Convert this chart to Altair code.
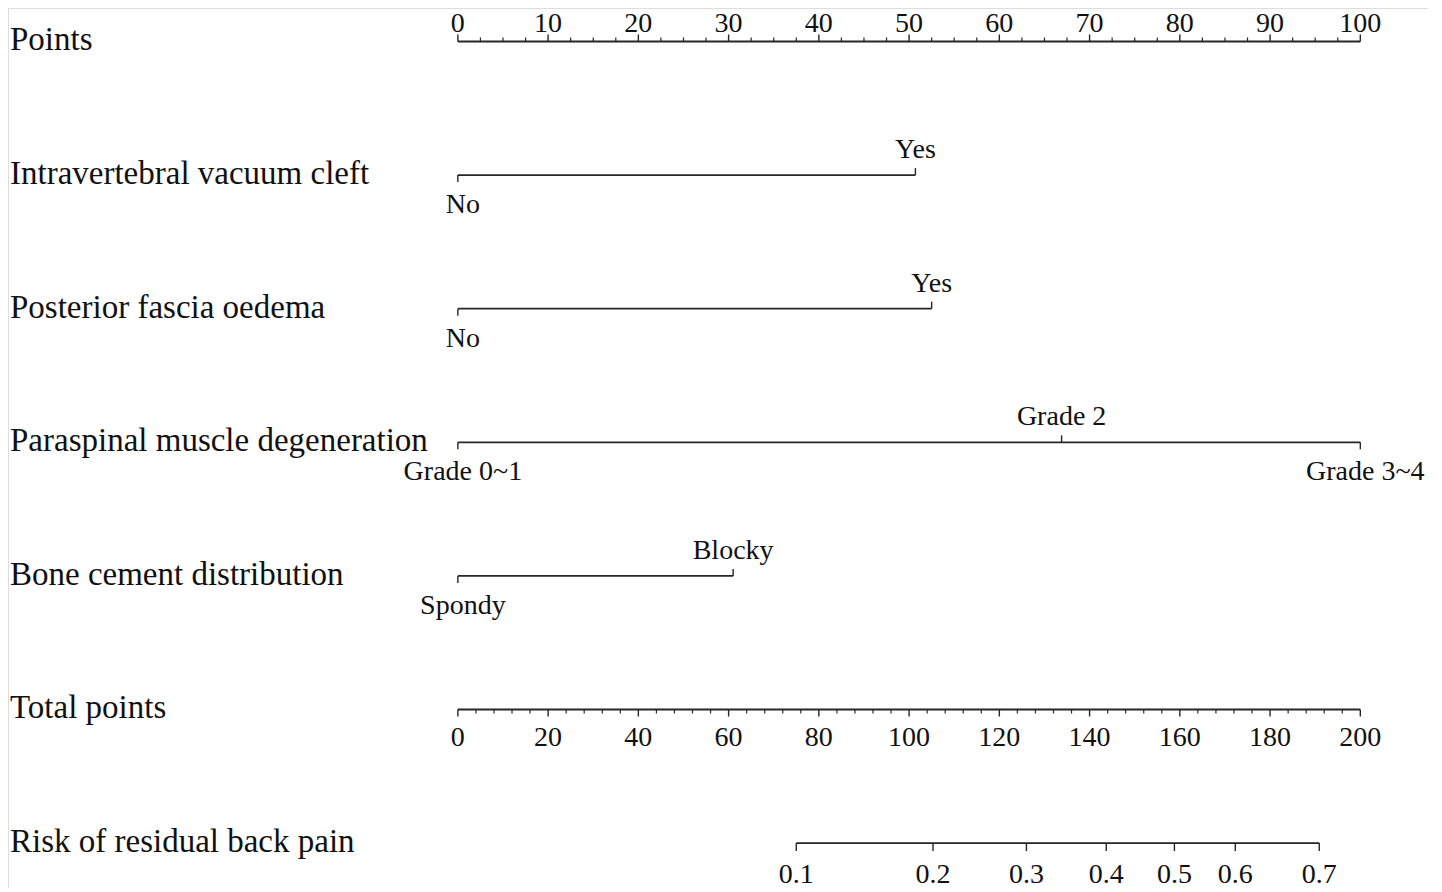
import altair as alt
import pandas as pd

# ---------------- data ----------------
variables = ["Points", "Intravertebral vacuum cleft", "Posterior fascia oedema",
             "Paraspinal muscle degeneration", "Bone cement distribution",
             "Total points", "Risk of residual back pain"]

points_major = [0, 10, 20, 30, 40, 50, 60, 70, 80, 90, 100]
points_minor = [2.5, 5, 7.5, 12.5, 15, 17.5, 22.5, 25, 27.5, 32.5, 35, 37.5,
                42.5, 45, 47.5, 52.5, 55, 57.5, 62.5, 65, 67.5, 72.5, 75, 77.5,
                82.5, 85, 87.5, 92.5, 95, 97.5]

ivc_levels = ["No", "Yes"]
ivc_points = [0, 50.7]
ivc_side = ["below", "above"]

pfo_levels = ["No", "Yes"]
pfo_points = [0, 52.5]
pfo_side = ["below", "above"]

pmd_levels = ["Grade 0~1", "Grade 2", "Grade 3~4"]
pmd_points = [0, 66.9, 100]
pmd_side = ["below", "above", "below"]

bcd_levels = ["Spondy", "Blocky"]
bcd_points = [0, 30.5]
bcd_side = ["below", "above"]

total_major = [0, 20, 40, 60, 80, 100, 120, 140, 160, 180, 200]
total_minor = [4, 8, 12, 16, 24, 28, 32, 36, 44, 48, 52, 56, 64, 68, 72, 76,
               84, 88, 92, 96, 104, 108, 112, 116, 124, 128, 132, 136, 144, 148,
               152, 156, 164, 168, 172, 176, 184, 188, 192, 196]

risk_labels = ["0.1", "0.2", "0.3", "0.4", "0.5", "0.6", "0.7"]
risk_total = [75.0, 105.3, 126.0, 143.7, 158.8, 172.3, 190.9]

# ---------------- build tables ----------------
TOTAL_MAX = 200.0
PTS_MAX = 100.0

lines = pd.DataFrame({
    "row": [0, 1, 2, 3, 4, 5, 6],
    "x0": [0, min(ivc_points), min(pfo_points), min(pmd_points), min(bcd_points), 0,
           risk_total[0] * PTS_MAX / TOTAL_MAX],
    "x1": [100, max(ivc_points), max(pfo_points), max(pmd_points), max(bcd_points), 100,
           risk_total[-1] * PTS_MAX / TOTAL_MAX],
})

names = pd.DataFrame({"row": list(range(len(variables))), "name": variables})

cat_rows = []
for r, (lv, pt, sd) in enumerate([(ivc_levels, ivc_points, ivc_side),
                                   (pfo_levels, pfo_points, pfo_side),
                                   (pmd_levels, pmd_points, pmd_side),
                                   (bcd_levels, bcd_points, bcd_side)], start=1):
    for l, p, s in zip(lv, pt, sd):
        cat_rows.append({"row": r, "x": p, "label": l, "side": s})
cats = pd.DataFrame(cat_rows)
cat_up = cats[cats.side == "above"]
cat_down = cats[cats.side == "below"]

pmaj = pd.DataFrame({"row": 0, "x": points_major, "label": [str(v) for v in points_major]})
pmin = pd.DataFrame({"row": 0, "x": points_minor})
tmaj = pd.DataFrame({"row": 5, "x": [v * PTS_MAX / TOTAL_MAX for v in total_major],
                     "label": [str(v) for v in total_major]})
tmin = pd.DataFrame({"row": 5, "x": [v * PTS_MAX / TOTAL_MAX for v in total_minor]})
risk = pd.DataFrame({"row": 6, "x": [v * PTS_MAX / TOTAL_MAX for v in risk_total],
                     "label": risk_labels})

# ---------------- scales ----------------
W, H = 1420, 880
xs = alt.Scale(domain=[-49.85, 107.5], nice=False, zero=False)
ys = alt.Scale(domain=[-0.2507, (H - 33.5) / 133.6], nice=False, zero=False, reverse=True)
X = lambda f="x": alt.X(f, type="quantitative", scale=xs, axis=None)
Y = alt.Y("row:Q", scale=ys, axis=None)
Y2 = alt.Y2("row:Q")

FONT = "Liberation Serif"
LINE = "#262626"
TXT = "#111111"

base = lambda df: alt.Chart(df)

layers = [
    base(lines).mark_rule(color=LINE, strokeWidth=1.8).encode(
        x=X("x0"), x2=alt.X2("x1"), y=Y),
    # points axis ticks (upward)
    base(pmaj).mark_rule(color=LINE, strokeWidth=1.4, y2Offset=-7).encode(x=X(), y=Y, y2=Y2),
    base(pmin).mark_rule(color=LINE, strokeWidth=1.2, y2Offset=-4).encode(x=X(), y=Y, y2=Y2),
    base(pmaj).mark_text(font=FONT, fontSize=28, color=TXT, baseline="middle",
                         align="center", dy=-17).encode(x=X(), y=Y, text="label"),
    # categorical ticks
    base(cat_up).mark_rule(color=LINE, strokeWidth=1.4, y2Offset=-7).encode(x=X(), y=Y, y2=Y2),
    base(cat_down).mark_rule(color=LINE, strokeWidth=1.4, y2Offset=7).encode(x=X(), y=Y, y2=Y2),
    base(cat_up).mark_text(font=FONT, fontSize=28, color=TXT, baseline="middle",
                           align="center", dy=-25).encode(x=X(), y=Y, text="label"),
    base(cat_down).mark_text(font=FONT, fontSize=28, color=TXT, baseline="middle",
                             align="center", dx=5, dy=30).encode(x=X(), y=Y, text="label"),
    # total points axis (downward)
    base(tmaj).mark_rule(color=LINE, strokeWidth=1.4, y2Offset=7).encode(x=X(), y=Y, y2=Y2),
    base(tmin).mark_rule(color=LINE, strokeWidth=1.2, y2Offset=4).encode(x=X(), y=Y, y2=Y2),
    base(tmaj).mark_text(font=FONT, fontSize=28, color=TXT, baseline="middle",
                         align="center", dy=29).encode(x=X(), y=Y, text="label"),
    # risk axis
    base(risk).mark_rule(color=LINE, strokeWidth=1.4, y2Offset=8).encode(x=X(), y=Y, y2=Y2),
    base(risk).mark_text(font=FONT, fontSize=28, color=TXT, baseline="middle",
                         align="center", dy=32).encode(x=X(), y=Y, text="label"),
    # variable names
    base(names).mark_text(font=FONT, fontSize=33, color=TXT, baseline="middle",
                          align="left", dy=-1).encode(x=alt.value(2), y=Y, text="name"),
]

chart = alt.layer(*layers).properties(
    width=W, height=H, padding=0, autosize=alt.AutoSizeParams(type="none")
).configure_view(stroke=None).configure(background="white")

chart.save("out.html", embed_options={"renderer": "svg", "actions": False})
